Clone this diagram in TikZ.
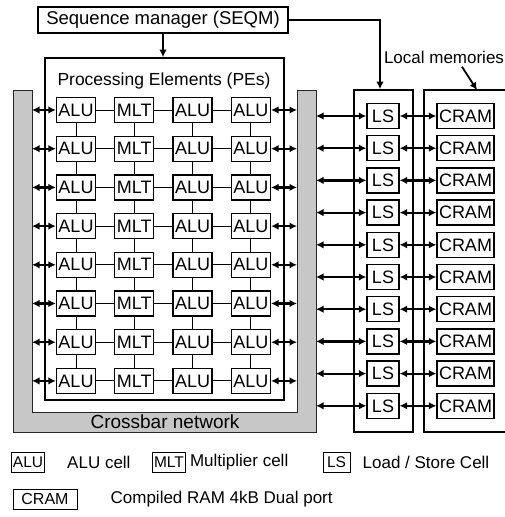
\documentclass[tikz,border=0pt]{standalone}
\usepackage{fontspec}
\setmainfont{Liberation Sans}
\usetikzlibrary{positioning,arrows.meta}

\begin{document}
\begin{tikzpicture}[x=1pt,y=-1pt,>={Latex[length=7.5pt,width=7.5pt]},
  cell/.style={draw,line width=1.3pt,inner sep=0pt,minimum width=39pt,minimum height=25pt,font=\fontsize{18}{18}\selectfont},
  frame/.style={draw,line width=1.6pt},
  wire/.style={line width=0.9pt},
  bus/.style={<->,line width=2.2pt},
  key/.style={draw,line width=0.9pt,inner sep=1.5pt,minimum height=20pt,font=\fontsize{15.5}{15.5}\selectfont},
  legend/.style={inner sep=0pt,font=\fontsize{17}{17}\selectfont}]
\useasboundingbox (0,0) rectangle (505,517);

% sequence manager
\node[draw,line width=1.3pt,minimum width=250pt,minimum height=26pt,font=\fontsize{18.5}{18.5}\selectfont](SEQM)at(163,20){Sequence manager (SEQM)};

% crossbar
\filldraw[fill=black!22,draw=black!85,line width=1pt](13,90)--(32,90)--(32,412)--(297,412)--(297,90)--(316,90)--(316,432)--(13,432)--cycle;
\node[font=\fontsize{19}{19}\selectfont](XBAR)at(165,422){Crossbar network};
\coordinate(XL)at(32,0);
\coordinate(XR)at(297,0);
\coordinate(XO)at(316,0);

% processing elements
\node[frame,minimum width=239pt,minimum height=342pt](PE)at(164.5,229){};
\node[font=\fontsize{17.5}{17.5}\selectfont](PEL)at(164,81){Processing Elements (PEs)};
\draw[->,line width=2pt](SEQM.south)--(SEQM.south|-PE.north);
\foreach \r in {1,...,8}
  \foreach \c/\t in {1/ALU,2/MLT,3/ALU,4/ALU}
    \node[cell](P\r\c)at({76+58.3*(\c-1)},{110+38.7*(\r-1)}){\t};
\foreach \r in {1,...,8}{
  \foreach \c/\n in {1/2,2/3,3/4}\draw[wire](P\r\c)--(P\r\n);
  \draw[bus](P\r1.west-|XL)--(P\r1.west);
  \draw[bus](P\r4.east)--(P\r4.east-|XR);
}
\foreach \r/\s in {1/2,2/3,3/4,4/5,5/6,6/7,7/8}
  \foreach \c in {1,...,4}\draw[wire](P\r\c)--(P\s\c);

% local memories
\node[frame,minimum width=59pt,minimum height=342pt](LSM)at(383.5,261){};
\draw[line width=1.6pt](505,90)-|(424,432)--(505,432);
\coordinate(CMT)at(477,90);
\foreach \r in {1,...,10}{
  \node[cell,minimum width=32pt](L\r)at(383,{116+32.2*(\r-1)}){LS};
  \node[cell,minimum width=57pt](C\r)at(465.5,{116+32.2*(\r-1)}){CRAM};
  \draw[bus](L\r.west-|XO)--(L\r.west);
  \draw[bus](L\r)--(C\r);
}
\draw[->,line width=1.5pt](SEQM.east)-|([xshift=-3.5pt]LSM.north);
\node[font=\fontsize{17}{17}\selectfont](LOC)at(444,57){Local memories};
\draw[->,line width=1.8pt]([xshift=18pt]LOC.south)--(CMT);

% legend
\node[key,minimum width=31pt](KALU)at(28,462){ALU};
\node[legend,right=22pt of KALU](TALU){ALU cell};
\node[key,minimum width=32pt](KMLT)at(169,462){MLT};
\node[legend,right=4pt of KMLT](TMLT){Multiplier cell};
\node[key,minimum width=27pt](KLS)at(336.5,462){LS};
\node[legend,right=12pt of KLS](TLS){Load / Store Cell};
\node[key,minimum width=64pt,font=\fontsize{16}{16}\selectfont](KCRAM)at(45,499){CRAM};
\node[legend,right=33pt of KCRAM](TCRAM){Compiled RAM 4kB Dual port};
\end{tikzpicture}
\end{document}
